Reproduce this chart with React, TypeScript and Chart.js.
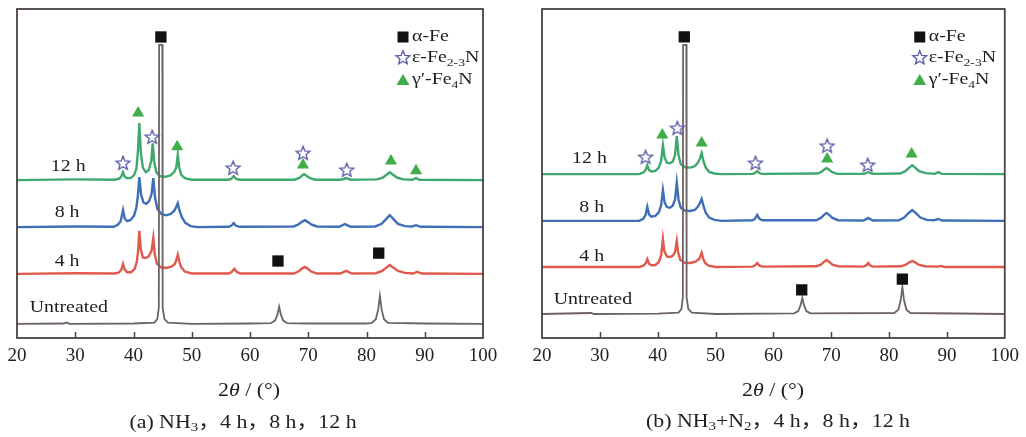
import React, { useEffect, useRef } from "react";
import { Chart, registerables } from "chart.js";
Chart.register(...registerables);

const FONT = '"Liberation Serif", "DejaVu Serif", serif';

const xTicks = [20, 30, 40, 50, 60, 70, 80, 90, 100];
const innerTicks = [30, 40, 50, 60, 70, 80, 90];
const traceNames = ["Untreated", "4 h", "8 h", "12 h"];
const traceColors = ["#6d6264", "#e0594d", "#3f6fb6", "#3fa86c"];
const legendNames = ["α-Fe", "ε-Fe2-3N", "γ′-Fe4N"];

// ---------- panel (a): NH3 ----------
const aOffsets = [4.3, 19.5, 33.7, 48.0];
const aUntreated: number[][] = [
  [20, 0], [28, 0.1], [28.5, 0.4], [29, 0], [40, 0.1], [43.6, 0.4], [44.1, 1.5], [44.35, 5], [44.4, 84.8],
  [44.95, 84.8], [45.0, 5], [45.3, 1.5], [45.9, 0.4], [50, 0], [60, 0.1], [63.6, 0.2], [64.3, 1.0], [64.7, 2.8],
  [65, 5.2], [65.3, 2.8], [65.7, 1.0], [66.4, 0.2], [70, 0.1], [80, 0.1], [80.9, 0.3], [81.6, 1.4], [82.0, 4.3],
  [82.3, 8.5], [82.6, 4.3], [83.0, 1.4], [83.7, 0.3], [90, 0.1], [100, 0],
];
const a4h: number[][] = [
  [20, 0], [30, 0.2], [36.8, 0.1], [37.5, 0.4], [37.9, 1.2], [38.2, 3.0], [38.5, 1.3], [38.9, 0.5], [39.6, 0.5],
  [40.2, 1.5], [40.55, 3.5], [40.8, 7], [41.0, 13.1], [41.25, 7.5], [41.6, 5], [42.1, 4.8], [42.6, 5.3],
  [43.1, 7], [43.4, 10.9], [43.65, 6], [44.0, 3.2], [44.7, 2], [45.6, 1.8], [46.5, 2.2], [47.1, 3], [47.35, 4.2],
  [47.6, 5.8], [47.85, 3.8], [48.2, 2], [48.8, 0.7], [50, 0.1], [56.3, 0.1], [56.8, 0.5], [57.3, 1.5],
  [57.8, 0.5], [58.4, 0.1], [67.5, 0.1], [68.3, 0.7], [68.9, 1.6], [69.4, 2.1], [69.9, 1.6], [70.5, 0.7],
  [71.5, 0.1], [75.5, 0.1], [76.5, 0.9], [77.5, 0.1], [81.6, 0.2], [82.7, 0.9], [83.4, 1.9], [84.0, 2.7],
  [84.6, 1.9], [85.4, 0.9], [86.6, 0.3], [88, 0.1], [88.7, 0.6], [89.5, 0.1], [100, 0],
];
const a8h: number[][] = [
  [20, 0], [30, 0.2], [36.6, 0.1], [37.3, 0.7], [37.8, 1.8], [38.2, 5.2], [38.5, 2.6], [38.9, 1.8], [39.5, 2.2],
  [40.1, 3.5], [40.5, 6], [40.75, 9.5], [41.0, 15.2], [41.3, 10], [41.7, 7.5], [42.2, 7.1], [42.7, 8],
  [43.1, 10], [43.4, 14.9], [43.7, 9], [44.1, 5.5], [44.8, 4], [45.6, 3.6], [46.4, 4], [47.0, 5], [47.3, 6],
  [47.6, 7.3], [47.9, 5], [48.3, 3], [48.9, 1.3], [49.8, 0.3], [51, 0], [56.3, 0.1], [56.8, 0.4], [57.2, 1.2],
  [57.6, 0.4], [58.2, 0.1], [67.5, 0.2], [68.3, 0.8], [68.9, 1.6], [69.4, 2.1], [69.9, 1.6], [70.5, 0.8],
  [71.5, 0.2], [75.3, 0.1], [76.3, 0.9], [77.3, 0.1], [81.5, 0.2], [82.6, 1], [83.4, 2.5], [84.0, 3.6],
  [84.6, 2.5], [85.4, 1], [86.6, 0.3], [87.8, 0.2], [88.5, 0.6], [89.3, 0.1], [100, 0],
];
const a12h: number[][] = [
  [20, 0], [30, 0.2], [36.8, 0.1], [37.6, 0.5], [37.95, 1.2], [38.2, 2.4], [38.45, 1.2], [38.8, 0.6],
  [39.5, 0.6], [40.1, 1.5], [40.5, 3.5], [40.75, 8.5], [41.0, 17.3], [41.25, 8.5], [41.6, 3.8], [42.1, 2.4],
  [42.6, 3], [43.05, 5.8], [43.3, 11.2], [43.55, 5.6], [43.9, 2.5], [44.5, 1.2], [45.5, 1], [46.4, 1.5],
  [47.0, 2.5], [47.35, 3.8], [47.6, 7.6], [47.85, 3.8], [48.2, 1.6], [48.8, 0.6], [50, 0.1], [56.3, 0.1],
  [56.8, 0.4], [57.2, 1.2], [57.6, 0.4], [58.2, 0.1], [67.6, 0.1], [68.4, 0.6], [68.9, 1.3], [69.3, 1.8],
  [69.7, 1.3], [70.3, 0.6], [71.2, 0.1], [75.7, 0.1], [76.5, 0.6], [77.3, 0.1], [81.8, 0.2], [82.8, 0.7],
  [83.5, 1.7], [84.0, 2.4], [84.5, 1.7], [85.3, 0.7], [86.4, 0.2], [87.9, 0.1], [88.5, 0.6], [89.1, 0.1],
  [100, 0],
];
const aLabelX = [28.9, 28.6, 28.6, 28.8];
const aLabelY = [9.4, 23.1, 38.0, 52.0];
const aSquareMarks = [[44.7, 91.5], [64.8, 23.4], [82.1, 25.8]];
const aTriangleMarks = [[40.8, 68.4], [47.5, 58.1], [69.1, 52.6], [84.2, 53.8], [88.5, 50.8]];
const aStarMarks = [[38.2, 53.2], [43.2, 61.1], [57.1, 51.7], [69.1, 56.2], [76.6, 51.1]];

// ---------- panel (b): NH3+N2 ----------
const bOffsets = [7.3, 21.6, 35.6, 49.8];
const bUntreated: number[][] = [
  [20, 0], [28.5, 0.3], [29, 0], [40, 0.1], [43.6, 0.4], [44.1, 1.5], [44.35, 5], [44.4, 81.8], [44.95, 81.8],
  [45.0, 5], [45.3, 1.5], [45.9, 0.4], [50, 0], [63.6, 0.2], [64.3, 0.9], [64.7, 2.6], [65, 4.9], [65.3, 2.6],
  [65.7, 0.9], [66.4, 0.2], [80.9, 0.3], [81.6, 1.3], [82.0, 4.1], [82.3, 8.2], [82.6, 4.1], [83.0, 1.3],
  [83.7, 0.3], [100, 0],
];
const b4h: number[][] = [
  [20, 0], [36.8, 0], [37.5, 0.4], [37.9, 1], [38.2, 2.4], [38.5, 1], [38.9, 0.5], [39.6, 0.6], [40.2, 1.5],
  [40.6, 3.5], [40.9, 8.5], [41.15, 4.8], [41.6, 3.2], [42.1, 3], [42.6, 3.4], [43.0, 4.5], [43.3, 7.9],
  [43.55, 4.3], [43.9, 2.2], [44.6, 1.3], [45.6, 1.2], [46.5, 1.6], [47.1, 2.3], [47.35, 3.1], [47.6, 4.3],
  [47.85, 2.6], [48.2, 1.2], [48.8, 0.4], [50, 0], [56.4, 0.1], [56.8, 0.4], [57.2, 1.2], [57.6, 0.4],
  [58.1, 0.1], [67.4, 0.2], [68.2, 0.7], [68.8, 1.6], [69.2, 2.1], [69.6, 1.6], [70.2, 0.7], [71.2, 0.2],
  [75.6, 0.1], [76.1, 0.5], [76.4, 1.2], [76.7, 0.5], [77.2, 0.1], [82.1, 0.2], [82.9, 0.7], [83.5, 1.4],
  [84, 1.8], [84.5, 1.4], [85.1, 0.7], [86.2, 0.2], [88.4, 0.1], [89, 0.3], [89.6, 0], [100, 0],
];
const b8h: number[][] = [
  [20, 0], [36.8, 0], [37.5, 0.6], [37.9, 1.8], [38.2, 4.3], [38.5, 2], [38.9, 1.3], [39.6, 1.5], [40.2, 2.6],
  [40.6, 4.8], [40.9, 9.4], [41.2, 5.6], [41.6, 4.2], [42.1, 4], [42.6, 4.6], [43.0, 6.5], [43.3, 11.6],
  [43.6, 6.5], [44.0, 4], [44.7, 3.1], [45.6, 3], [46.4, 3.3], [47.0, 4.4], [47.3, 5.5], [47.6, 6.7],
  [47.9, 4.6], [48.3, 2.5], [48.9, 1], [49.8, 0.3], [51, 0], [56.4, 0.2], [56.8, 0.6], [57.2, 1.8], [57.6, 0.6],
  [58.1, 0.2], [67.4, 0.2], [68.2, 0.9], [68.8, 1.9], [69.2, 2.4], [69.6, 1.9], [70.2, 0.9], [71.2, 0.2],
  [75.6, 0.1], [76.4, 0.9], [77.2, 0.1], [81.7, 0.2], [82.6, 1], [83.4, 2.4], [84, 3.3], [84.6, 2.4],
  [85.4, 1], [86.5, 0.3], [87.8, 0.2], [88.5, 0.6], [89.2, 0.1], [100, 0],
];
const b12h: number[][] = [
  [20, 0], [36.8, 0], [37.5, 0.5], [37.9, 1.2], [38.2, 2.7], [38.5, 1.3], [38.9, 0.8], [39.6, 1], [40.2, 2],
  [40.6, 4], [40.9, 8.8], [41.2, 5], [41.6, 3.5], [42.1, 3.3], [42.6, 3.8], [43.0, 5.8], [43.3, 11.6],
  [43.6, 5.8], [44.0, 3], [44.7, 2.1], [45.6, 2], [46.4, 2.4], [47.0, 3.6], [47.3, 4.8], [47.6, 6.4], [47.9, 4],
  [48.3, 2], [48.9, 0.7], [49.8, 0.2], [51, 0], [56.4, 0.1], [56.8, 0.3], [57.2, 0.9], [57.6, 0.3], [58, 0.1],
  [67.6, 0.2], [68.3, 0.7], [68.8, 1.4], [69.2, 1.8], [69.6, 1.4], [70.1, 0.7], [71, 0.1], [75.7, 0.1],
  [76.4, 0.6], [77.1, 0.1], [81.9, 0.2], [82.8, 0.9], [83.5, 2], [84, 2.7], [84.5, 2], [85.2, 0.9], [86.3, 0.3],
  [87.9, 0.1], [88.5, 0.6], [89.1, 0.1], [100, 0],
];
const bLabelX = [28.8, 28.6, 28.6, 28.2];
const bLabelY = [11.6, 24.9, 39.8, 54.7];
const bSquareMarks = [[44.6, 91.5], [64.9, 14.6], [82.3, 17.9]];
const bTriangleMarks = [[40.8, 61.7], [47.6, 59.3], [69.3, 54.4], [83.9, 55.9]];
const bStarMarks = [[37.9, 55.0], [43.4, 63.8], [56.9, 53.2], [69.3, 58.4], [76.3, 52.6]];

const STAR_COLOR = "#5c5cab";
const TRI_COLOR = "#3fae4a";

function starPath(ctx: CanvasRenderingContext2D, cx: number, cy: number, R: number, r: number) {
  ctx.beginPath();
  for (let i = 0; i < 10; i++) {
    const rad = i % 2 === 0 ? R : r;
    const ang = -Math.PI / 2 + (i * Math.PI) / 5;
    const px = cx + rad * Math.cos(ang);
    const py = cy + rad * Math.sin(ang);
    if (i === 0) ctx.moveTo(px, py);
    else ctx.lineTo(px, py);
  }
  ctx.closePath();
}

function drawStar(ctx: CanvasRenderingContext2D, cx: number, cy: number) {
  ctx.save();
  starPath(ctx, cx, cy, 7.2, 3.2);
  ctx.fillStyle = "#ffffff";
  ctx.fill();
  ctx.strokeStyle = STAR_COLOR;
  ctx.lineWidth = 1.4;
  ctx.stroke();
  ctx.restore();
}

function makeStarImage() {
  const c = document.createElement("canvas");
  c.width = 18;
  c.height = 18;
  const g = c.getContext("2d")!;
  drawStar(g, 9, 9.5);
  return c;
}

function drawRuns(ctx: CanvasRenderingContext2D, x: number, y: number, text: string, size: number, sx: number, subs: string[]) {
  const runs: [string, boolean][] = [];
  let rest = text;
  while (rest.length) {
    let found = -1;
    let which = "";
    for (const s of subs) {
      const k = rest.indexOf(s);
      if (k >= 0 && (found < 0 || k < found)) { found = k; which = s; }
    }
    if (found < 0) { runs.push([rest, false]); break; }
    if (found > 0) runs.push([rest.slice(0, found), false]);
    runs.push([which, true]);
    rest = rest.slice(found + which.length);
  }
  ctx.save();
  ctx.translate(x, y);
  ctx.scale(sx, 1);
  ctx.textBaseline = "middle";
  ctx.textAlign = "left";
  let cx = 0;
  for (const [t, sub] of runs) {
    ctx.font = `${sub ? Math.round(size * 0.7) : size}px ${FONT}`;
    ctx.fillText(t, cx, sub ? size * 0.3 : 0);
    cx += ctx.measureText(t).width;
  }
  ctx.restore();
}

type PanelProps = {
  left: number;
  padLeft: number;
  padRight: number;
  offsets: number[];
  traces: number[][][];
  labelX: number[];
  labelY: number[];
  squares: number[][];
  triangles: number[][];
  stars: number[][];
  legendDx: number;
};

function Panel(p: PanelProps) {
  const ref = useRef<HTMLCanvasElement | null>(null);
  useEffect(() => {
    if (!ref.current) return;
    const starImg = makeStarImage();
    const toXY = (arr: number[][], off = 0) => arr.map((d) => ({ x: d[0], y: d[1] + off }));
    const markerSets: any[] = [
      { type: "scatter", data: toXY(p.squares), pointStyle: "rect", pointRadius: 8, pointBackgroundColor: "#111111", pointBorderWidth: 0, showLine: false },
      { type: "scatter", data: toXY(p.triangles), pointStyle: "triangle", pointRadius: 7, pointBackgroundColor: TRI_COLOR, pointBorderWidth: 0, showLine: false },
      { type: "scatter", data: toXY(p.stars), pointStyle: starImg, pointRadius: 7, showLine: false },
    ];
    const lineSets: any[] = p.traces.map((tr, i) => ({
      type: "line",
      label: traceNames[i],
      data: toXY(tr, p.offsets[i]),
      borderColor: traceColors[i],
      borderWidth: i === 0 ? 1.8 : 2.4,
      pointRadius: 0,
      tension: 0,
      fill: false,
    }));
    const deco = {
      id: "deco",
      afterDraw(chart: any) {
        const { ctx, chartArea: ca, scales } = chart;
        const xs = scales.x;
        const ys = scales.y;
        ctx.save();
        ctx.strokeStyle = "#4a4242";
        ctx.lineWidth = 1.8;
        ctx.strokeRect(ca.left, ca.top, ca.right - ca.left, ca.bottom - ca.top);
        ctx.lineWidth = 1.5;
        for (const t of innerTicks) {
          const px = Math.round(xs.getPixelForValue(t)) + 0.5;
          ctx.beginPath();
          ctx.moveTo(px, ca.bottom);
          ctx.lineTo(px, ca.bottom - 6);
          ctx.stroke();
        }
        ctx.fillStyle = "#1e1e1e";
        ctx.font = `17px ${FONT}`;
        for (let i = 0; i < traceNames.length; i++) {
          const px = xs.getPixelForValue(p.labelX[i]);
          const py = ys.getPixelForValue(p.labelY[i]);
          ctx.save();
          ctx.translate(px, py);
          ctx.scale(1.17, 1);
          ctx.textAlign = "center";
          ctx.textBaseline = "middle";
          ctx.fillText(traceNames[i], 0, 0);
          ctx.restore();
        }
        const sx = ca.right + p.legendDx;
        const rows = [ca.top + 28, ca.top + 49, ca.top + 71];
        ctx.fillStyle = "#111111";
        ctx.fillRect(sx - 5.5, rows[0] - 5.5, 11, 11);
        drawStar(ctx, sx, rows[1]);
        ctx.beginPath();
        ctx.moveTo(sx, rows[2] - 6);
        ctx.lineTo(sx + 6.5, rows[2] + 5);
        ctx.lineTo(sx - 6.5, rows[2] + 5);
        ctx.closePath();
        ctx.fillStyle = TRI_COLOR;
        ctx.fill();
        ctx.fillStyle = "#1e1e1e";
        for (let i = 0; i < legendNames.length; i++) {
          drawRuns(ctx, sx + 9, rows[i], legendNames[i], 16, 1.24, ["2-3", "4"]);
        }
        ctx.restore();
      },
    };
    const chart = new Chart(ref.current, {
      type: "line",
      data: { datasets: [...markerSets, ...lineSets] },
      options: {
        responsive: false,
        animation: false,
        devicePixelRatio: 1,
        layout: { padding: { left: p.padLeft, right: p.padRight, top: 9, bottom: 0 } },
        plugins: { legend: { display: false }, tooltip: { enabled: false }, title: { display: false } },
        scales: {
          x: {
            type: "linear",
            min: 20,
            max: 100,
            afterBuildTicks: (scale: any) => {
              scale.ticks = xTicks.map((v) => ({ value: v }));
            },
            afterFit: (scale: any) => {
              scale.height = 99;
            },
            ticks: { font: { family: FONT, size: 19 }, color: "#222222", padding: 7, maxRotation: 0, autoSkip: false },
            grid: { display: false, drawTicks: false, tickLength: 0 },
            border: { display: false },
          },
          y: { type: "linear", min: 0, max: 100, display: false },
        },
      } as any,
      plugins: [deco],
    });
    return () => chart.destroy();
  }, []);
  return (
    <canvas
      ref={ref}
      width={513}
      height={437}
      style={{ position: "absolute", left: p.left, top: 0, width: 513, height: 437 }}
    />
  );
}

const textStyle: React.CSSProperties = {
  position: "absolute",
  whiteSpace: "nowrap",
  fontFamily: '"Liberation Serif", "Noto Sans CJK SC", serif',
  color: "#222222",
  lineHeight: 1,
};
const subStyle: React.CSSProperties = { fontSize: 13, verticalAlign: "-0.25em", lineHeight: 0 };

export default function App() {
  return (
    <div style={{ position: "fixed", left: 0, top: 0, width: 1026, height: 437, background: "#ffffff", overflow: "hidden" }}>
      <Panel
        left={0}
        padLeft={17}
        padRight={30}
        offsets={aOffsets}
        traces={[aUntreated, a4h, a8h, a12h]}
        labelX={aLabelX}
        labelY={aLabelY}
        squares={aSquareMarks}
        triangles={aTriangleMarks}
        stars={aStarMarks}
        legendDx={-80}
      />
      <Panel
        left={513}
        padLeft={29}
        padRight={18}
        offsets={bOffsets}
        traces={[bUntreated, b4h, b8h, b12h]}
        labelX={bLabelX}
        labelY={bLabelY}
        squares={bSquareMarks}
        triangles={bTriangleMarks}
        stars={bStarMarks}
        legendDx={-85}
      />
      <div style={{ ...textStyle, left: 249, top: 389, fontSize: 19, transform: "translate(-50%, -50%) scaleX(1.15)" }}>
        2<i>θ</i> / (°)
      </div>
      <div style={{ ...textStyle, left: 773, top: 389, fontSize: 19, transform: "translate(-50%, -50%) scaleX(1.15)" }}>
        2<i>θ</i> / (°)
      </div>
      <div style={{ ...textStyle, left: 243, top: 421, fontSize: 19, transform: "translate(-50%, -50%) scaleX(1.15)" }}>
        (a) NH<span style={subStyle}>3</span>，4 h，8 h，12 h
      </div>
      <div style={{ ...textStyle, left: 778, top: 420, fontSize: 19, transform: "translate(-50%, -50%) scaleX(1.15)" }}>
        (b) NH<span style={subStyle}>3</span>+N<span style={subStyle}>2</span>，4 h，8 h，12 h
      </div>
    </div>
  );
}
